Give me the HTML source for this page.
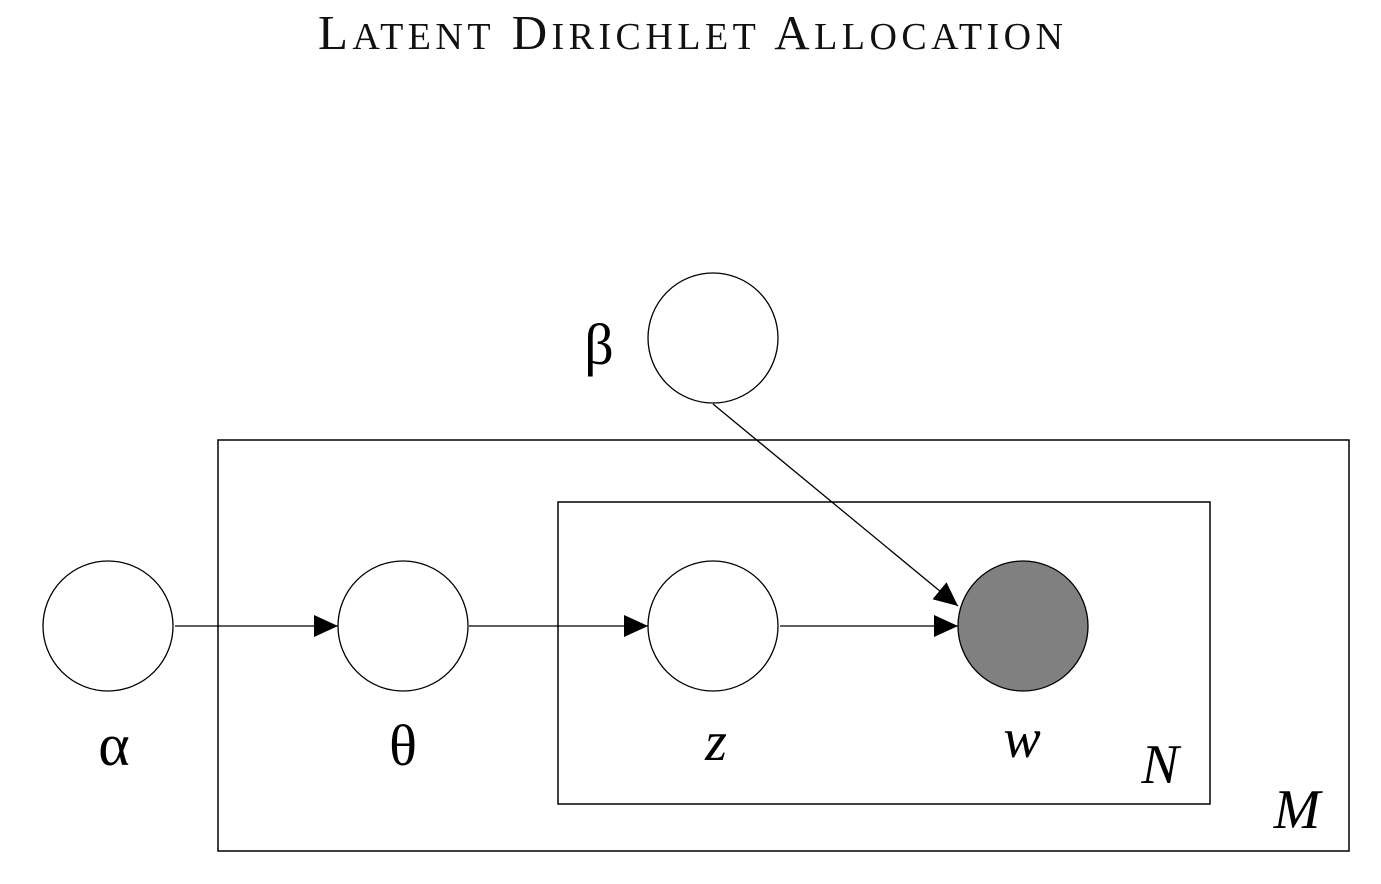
<!DOCTYPE html>
<html><head><meta charset="utf-8"><style>
html,body{margin:0;padding:0;background:#fff;}
svg{display:block;font-family:"Liberation Serif",serif;}
</style></head><body>
<svg width="1381" height="884" viewBox="0 0 1381 884">
<defs>
<marker id="ah" markerWidth="24" markerHeight="22" refX="24" refY="11" orient="auto" markerUnits="userSpaceOnUse">
<path d="M0,0 L24,11 L0,22 Z" fill="#000"/>
</marker>
</defs>
<text x="318" y="49" font-size="49" fill="#111" textLength="745" lengthAdjust="spacing">L<tspan font-size="38">ATENT</tspan> D<tspan font-size="38">IRICHLET</tspan> A<tspan font-size="38">LLOCATION</tspan></text>
<rect x="218" y="440" width="1131" height="411" fill="none" stroke="#000" stroke-width="1.5"/>
<rect x="558" y="502" width="652" height="302" fill="none" stroke="#000" stroke-width="1.5"/>
<line x1="175" y1="626" x2="338" y2="626" stroke="#000" stroke-width="1.3" marker-end="url(#ah)"/>
<line x1="469" y1="626" x2="648" y2="626" stroke="#000" stroke-width="1.3" marker-end="url(#ah)"/>
<line x1="780" y1="626" x2="958" y2="626" stroke="#000" stroke-width="1.3" marker-end="url(#ah)"/>
<line x1="713" y1="404" x2="958" y2="606" stroke="#000" stroke-width="1.3" marker-end="url(#ah)"/>
<circle cx="108" cy="626" r="65" fill="#fff" stroke="#000" stroke-width="1.3"/>
<circle cx="403" cy="626" r="65" fill="#fff" stroke="#000" stroke-width="1.3"/>
<circle cx="713" cy="626" r="65" fill="#fff" stroke="#000" stroke-width="1.3"/>
<circle cx="1023" cy="626" r="65" fill="#808080" stroke="#000" stroke-width="1.3"/>
<circle cx="713" cy="338" r="65" fill="#fff" stroke="#000" stroke-width="1.3"/>
<text x="114" y="765" text-anchor="middle" font-size="60">α</text>
<text x="403" y="765" text-anchor="middle" font-size="58">θ</text>
<text x="716" y="760" text-anchor="middle" font-size="56" font-style="italic">z</text>
<text x="1022" y="757" text-anchor="middle" font-size="56" font-style="italic">w</text>
<text x="1160" y="783" text-anchor="middle" font-size="56" font-style="italic">N</text>
<text x="1297" y="828" text-anchor="middle" font-size="56" font-style="italic">M</text>
<text x="599" y="364" text-anchor="middle" font-size="58">β</text>
</svg>
</body></html>
